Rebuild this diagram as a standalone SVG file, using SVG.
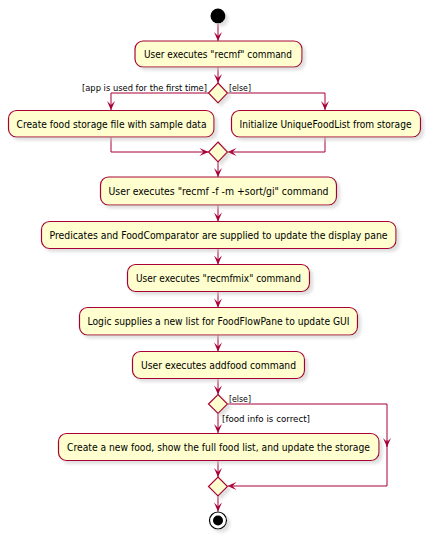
<svg xmlns="http://www.w3.org/2000/svg" width="428" height="537" viewBox="0 0 428 537">
<style>
.box{fill:#FEFECE;stroke:#A80036;stroke-width:1.2;filter:url(#sh)}
.dia{fill:#FEFECE;stroke:#A80036;stroke-width:1.2;filter:url(#sh)}
.t{font-family:"DejaVu Sans",sans-serif;font-size:10px;fill:#000;text-anchor:middle}
.l{font-family:"DejaVu Sans",sans-serif;font-size:9px;fill:#000}
.c{fill:none;stroke:#A80036;stroke-width:1;marker-end:url(#ah)}
</style>
<defs>
<filter id="sh" x="-20%" y="-20%" width="150%" height="160%">
<feGaussianBlur in="SourceAlpha" stdDeviation="1.5"/>
<feOffset dx="2.5" dy="2.5" result="b"/>
<feColorMatrix in="b" type="matrix" values="0 0 0 0 0.6  0 0 0 0 0.6  0 0 0 0 0.6  0 0 0 0.6 0"/>
<feMerge><feMergeNode/><feMergeNode in="SourceGraphic"/></feMerge>
</filter>
<marker id="ah" viewBox="-10 -5 10 10" refX="0" refY="0" markerWidth="10" markerHeight="10" orient="auto" markerUnits="userSpaceOnUse">
<path d="M0,0 L-9,-4 L-5,0 L-9,4 Z" fill="#A80036"/>
</marker>
</defs>
<rect width="428" height="537" fill="#FFFFFF"/>
<g id="connectors">
<path class="c" d="M218,24 V41"/>
<path class="c" d="M218,67 V83"/>
<path class="c" d="M208.5,93 H111 V110"/>
<path class="c" d="M227.5,93 H325 V110"/>
<path class="c" d="M111,137 V152 H208.5"/>
<path class="c" d="M325,137 V152 H227.5"/>
<path class="c" d="M218,162 V177"/>
<path class="c" d="M218,205 V221.5"/>
<path class="c" d="M218,248.5 V264.5"/>
<path class="c" d="M218,291.5 V307.5"/>
<path class="c" d="M218,335 V351.5"/>
<path class="c" d="M218,378.5 V394.5"/>
<path class="c" d="M218,413.5 V433"/>
<path class="c" d="M227.5,404 H387 V447"/>
<path class="c" style="marker-end:url(#ah)" d="M387,440 V486 H227.5"/>
<path class="c" d="M218,460.5 V477"/>
<path class="c" d="M218,496 V511.5"/>
</g>
<g id="start"><circle cx="218" cy="16" r="7.5" fill="#000" filter="url(#sh)"/></g>
<g id="n1"><rect class="box" x="135" y="41" width="167" height="26" rx="8"/><text class="t" x="218" y="58" textLength="148" lengthAdjust="spacingAndGlyphs">User executes "recmf" command</text></g>
<g id="d1"><polygon class="dia" points="218,83 227.5,93 218,103 208.5,93"/>
<text class="l" x="207" y="91" text-anchor="end" textLength="125" lengthAdjust="spacingAndGlyphs">[app is used for the first time]</text>
<text class="l" x="229" y="91" textLength="22" lengthAdjust="spacingAndGlyphs">[else]</text></g>
<g id="n2"><rect class="box" x="8.5" y="110.5" width="205.5" height="26.5" rx="8"/><text class="t" x="111.5" y="127.5" textLength="190" lengthAdjust="spacingAndGlyphs">Create food storage file with sample data</text></g>
<g id="n3"><rect class="box" x="231.5" y="110.5" width="189" height="26.5" rx="8"/><text class="t" x="325.5" y="127.5" textLength="172" lengthAdjust="spacingAndGlyphs">Initialize UniqueFoodList from storage</text></g>
<g id="d2"><polygon class="dia" points="218,142 227.5,152 218,162 208.5,152"/></g>
<g id="n4"><rect class="box" x="100.5" y="177" width="236" height="28" rx="8"/><text class="t" x="218.5" y="195" textLength="220" lengthAdjust="spacingAndGlyphs">User executes "recmf -f -m +sort/gi" command</text></g>
<g id="n5"><rect class="box" x="41.5" y="221.5" width="354.5" height="27" rx="8"/><text class="t" x="218.5" y="238.5" textLength="338" lengthAdjust="spacingAndGlyphs">Predicates and FoodComparator are supplied to update the display pane</text></g>
<g id="n6"><rect class="box" x="127.5" y="264.5" width="182" height="27" rx="8"/><text class="t" x="218.5" y="281.5" textLength="165" lengthAdjust="spacingAndGlyphs">User executes "recmfmix" command</text></g>
<g id="n7"><rect class="box" x="79.5" y="307.5" width="278" height="27.5" rx="8"/><text class="t" x="218.5" y="325" textLength="262" lengthAdjust="spacingAndGlyphs">Logic supplies a new list for FoodFlowPane to update GUI</text></g>
<g id="n8"><rect class="box" x="132.5" y="351.5" width="172" height="27" rx="8"/><text class="t" x="218.5" y="368.5" textLength="155" lengthAdjust="spacingAndGlyphs">User executes addfood command</text></g>
<g id="d3"><polygon class="dia" points="218,394.5 227.5,404 218,413.5 208.5,404"/>
<text class="l" x="229" y="402" textLength="22" lengthAdjust="spacingAndGlyphs">[else]</text>
<text class="l" x="222" y="422" textLength="88" lengthAdjust="spacingAndGlyphs">[food info is correct]</text></g>
<g id="n9"><rect class="box" x="58.5" y="433.5" width="320.5" height="27" rx="8"/><text class="t" x="218.5" y="450.5" textLength="303" lengthAdjust="spacingAndGlyphs">Create a new food, show the full food list, and update the storage</text></g>
<g id="d4"><polygon class="dia" points="218,477 227.5,486.5 218,496 208.5,486.5"/></g>
<g id="end"><circle cx="218" cy="520.5" r="8.5" fill="#FFFFFF" stroke="#000" stroke-width="1.2" filter="url(#sh)"/><circle cx="218" cy="520.5" r="5" fill="#000"/></g>
</svg>
